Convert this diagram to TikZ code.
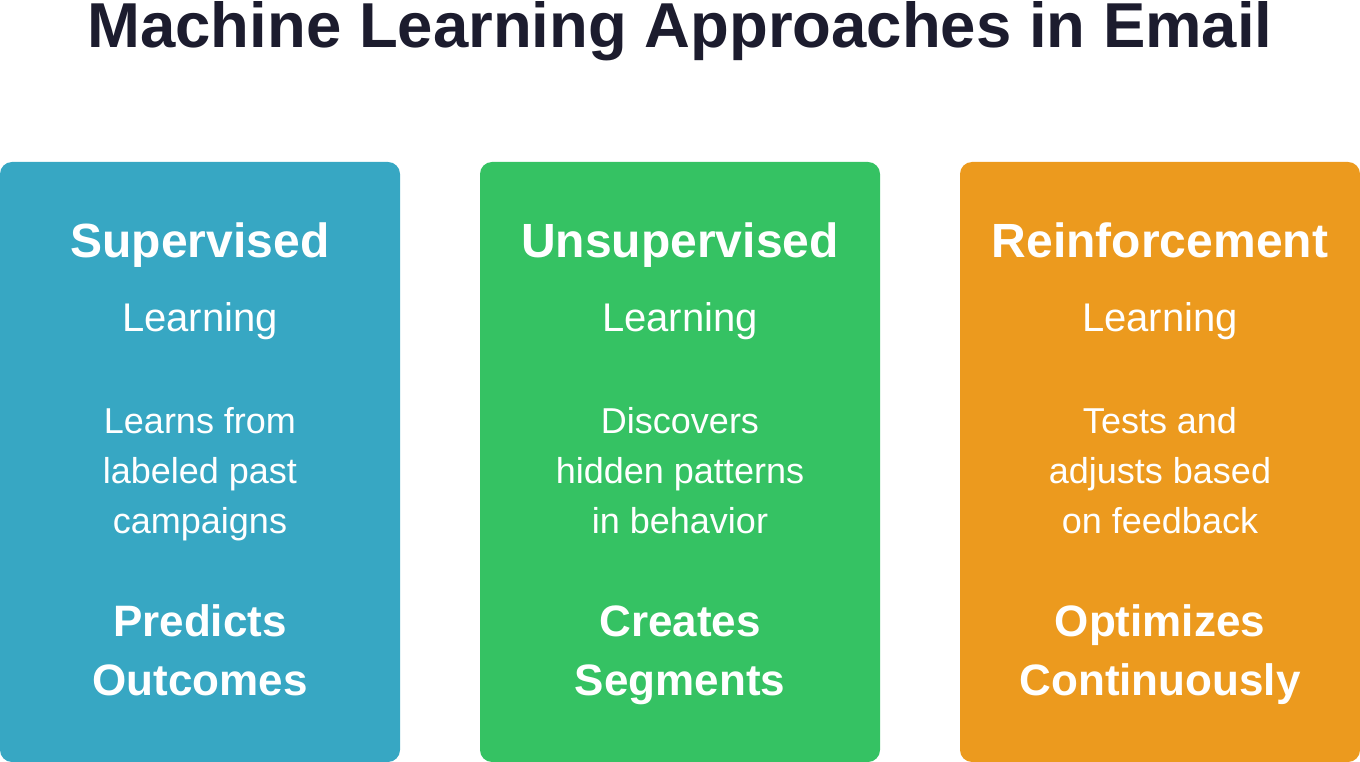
\documentclass[tikz,border=0pt]{standalone}
\usepackage{fontspec}
\setmainfont{Liberation Sans}
\definecolor{titlecol}{HTML}{1C1C2E}
\definecolor{supcol}{HTML}{37A7C3}
\definecolor{unsupcol}{HTML}{35C263}
\definecolor{reincol}{HTML}{EC9A1E}
\tikzset{
	box/.style={rounded corners=9pt, minimum width=300pt, minimum height=450pt, inner sep=0pt},
	txt/.style={text=white, anchor=base, inner sep=0pt},
	head/.style={txt, font=\fontsize{36}{43}\selectfont\bfseries},
	sub/.style={txt, font=\fontsize{30}{36}\selectfont},
	desc/.style={txt, font=\fontsize{27}{32}\selectfont},
	outc/.style={txt, font=\fontsize{33}{40}\selectfont\bfseries}
}

\begin{document}
\begin{tikzpicture}[x=0.75pt, y=-0.75pt]
	\useasboundingbox (0,0) rectangle (1360,762);
	\node[anchor=base, inner sep=0pt, text=titlecol, font=\fontsize{47.6}{58}\selectfont\bfseries] (title) at (680, 48) {Machine Learning Approaches in Email};

	% supervised
	\node[box, fill=supcol] (supbox) at (200, 462) {};
	\node[head] (suphead) at (200, 258) {Supervised};
	\node[sub] (supsub) at (200, 332) {Learning};
	\node[desc] (supd1) at (200, 434) {Learns from};
	\node[desc] (supd2) at (200, 484) {labeled past};
	\node[desc] (supd3) at (200, 534) {campaigns};
	\node[outc] (supo1) at (200, 636) {Predicts};
	\node[outc] (supo2) at (200, 695) {Outcomes};

	% unsupervised
	\node[box, fill=unsupcol] (unsupbox) at (680, 462) {};
	\node[head] (unsuphead) at (680, 258) {Unsupervised};
	\node[sub] (unsupsub) at (680, 332) {Learning};
	\node[desc] (unsupd1) at (680, 434) {Discovers};
	\node[desc] (unsupd2) at (680, 484) {hidden patterns};
	\node[desc] (unsupd3) at (680, 534) {in behavior};
	\node[outc] (unsupo1) at (680, 636) {Creates};
	\node[outc] (unsupo2) at (680, 695) {Segments};

	% reinforcement
	\node[box, fill=reincol] (reinbox) at (1160, 462) {};
	\node[head] (reinhead) at (1160, 258) {Reinforcement};
	\node[sub] (reinsub) at (1160, 332) {Learning};
	\node[desc] (reind1) at (1160, 434) {Tests and};
	\node[desc] (reind2) at (1160, 484) {adjusts based};
	\node[desc] (reind3) at (1160, 534) {on feedback};
	\node[outc] (reino1) at (1160, 636) {Optimizes};
	\node[outc] (reino2) at (1160, 695) {Continuously};
\end{tikzpicture}
\end{document}
